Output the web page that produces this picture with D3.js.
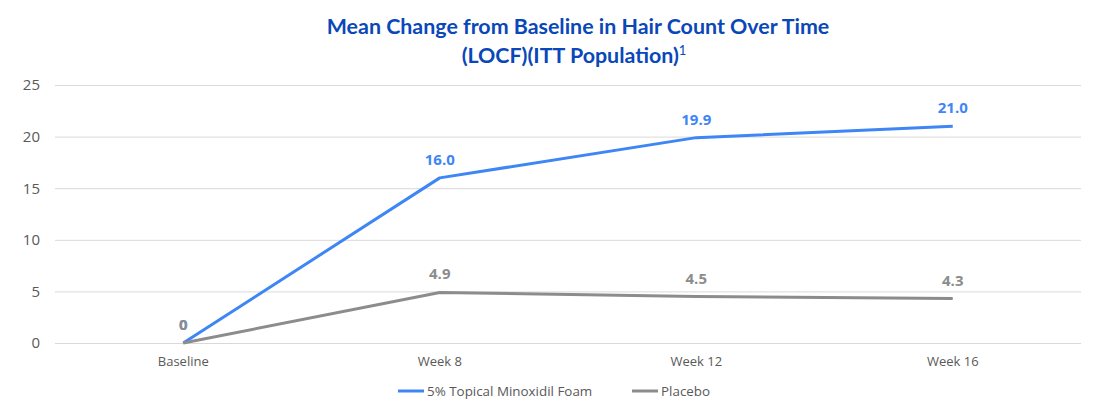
<!DOCTYPE html>
<html><head><meta charset="utf-8">
<script src="https://cdn.jsdelivr.net/npm/d3@7"></script>
<style>body{margin:0;background:#fff}svg{display:block}</style>
</head><body>
<script>
const categories = ["Baseline", "Week 8", "Week 12", "Week 16"];
const minoxidil = [0, 16.0, 19.9, 21.0];
const placebo = [0, 4.9, 4.5, 4.3];
const minoxidilLabels = ["0", "16.0", "19.9", "21.0"];
const placeboLabels = ["0", "4.9", "4.5", "4.3"];
const yTicks = [0, 5, 10, 15, 20, 25];
const seriesNames = ["5% Topical Minoxidil Foam", "Placebo"];

const W = 1096, H = 418;
const svg = d3.select("body").append("svg").attr("width", W).attr("height", H);
const x = d3.scaleBand().domain(categories).range([55, 1081]);
const y = d3.scaleLinear().domain([0, 25]).range([343, 85]);
const colors = ["#3e86f5", "#8c8c8c"];

// title
const title = svg.append("text").attr("text-anchor", "middle").attr("fill", "#0a47b8")
  .style("font-family", "Lato, 'Open Sans', sans-serif").style("font-weight", "bold").style("font-size", "21.4px");
title.append("tspan").attr("x", 578).attr("y", 34).text("Mean Change from Baseline in Hair Count Over Time");
const t2 = svg.append("text").attr("text-anchor", "middle").attr("fill", "#0a47b8")
  .style("font-family", "Lato, 'Open Sans', sans-serif").style("font-weight", "bold").style("font-size", "21.4px")
  .attr("x", 574).attr("y", 63);
t2.append("tspan").text("(LOCF)(ITT Population)");
t2.append("tspan").attr("dy", -8).style("font-size", "13px").style("font-weight", "normal").text("1");

// grid
const yAxis = d3.axisLeft(y).tickValues(yTicks).tickSize(-(1081 - 55)).tickPadding(15);
const gy = svg.append("g").attr("transform", "translate(55,0)").call(yAxis);
gy.select(".domain").remove();
gy.selectAll(".tick line").attr("stroke", "#d9d9d9").attr("stroke-width", 1);
gy.selectAll(".tick text").attr("fill", "#595959").style("font-family", "'Open Sans', sans-serif").style("font-size", "15px");

const xAxis = d3.axisBottom(x).tickSize(0).tickPadding(14);
const gx = svg.append("g").attr("transform", "translate(0,343)").call(xAxis);
gx.select(".domain").remove();
gx.selectAll(".tick text").attr("fill", "#595959").style("font-family", "'Open Sans', sans-serif").style("font-size", "13px");

const cx = d => x(d) + x.bandwidth() / 2;
const line = d3.line().x((d, i) => cx(categories[i])).y(d => y(d));
const series = [minoxidil, placebo];
const labels = [minoxidilLabels, placeboLabels];
series.forEach((s, k) => {
  svg.append("path").datum(s).attr("d", line).attr("fill", "none")
    .attr("stroke", colors[k]).attr("stroke-width", 3).attr("stroke-linejoin", "round");
});
series.forEach((s, k) => {
  svg.append("g").selectAll("text").data(s).join("text")
    .attr("x", (d, i) => cx(categories[i]))
    .attr("y", d => y(d) - 13)
    .attr("text-anchor", "middle").attr("fill", colors[k])
    .style("font-family", "'Open Sans', sans-serif").style("font-weight", "bold").style("font-size", "15px")
    .text((d, i) => labels[k][i]);
});

// legend
const legX = [398, 632];
seriesNames.forEach((n, k) => {
  svg.append("line").attr("x1", legX[k]).attr("x2", legX[k] + 26).attr("y1", 391).attr("y2", 391)
    .attr("stroke", colors[k]).attr("stroke-width", 3);
  svg.append("text").attr("x", legX[k] + 29).attr("y", 395.5).attr("fill", "#595959")
    .style("font-family", "'Open Sans', sans-serif").style("font-size", "13.4px").text(n);
});
</script>
</body></html>
